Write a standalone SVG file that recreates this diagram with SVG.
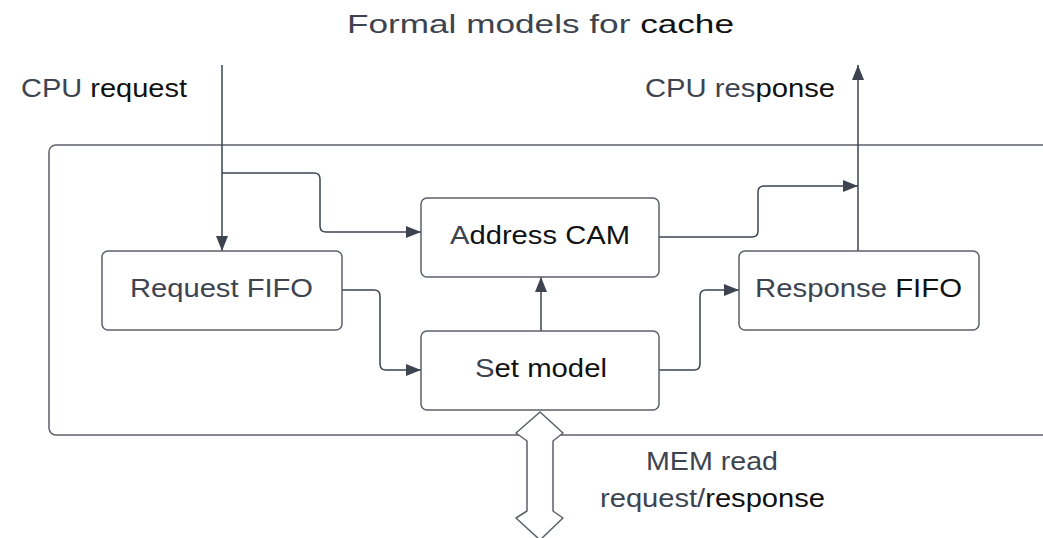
<svg xmlns="http://www.w3.org/2000/svg" width="1043" height="538" viewBox="0 0 1043 538">
<style>
.box{fill:#ffffff;stroke:#5c6169;stroke-width:1.5}
.cn{fill:none;stroke:#3d4450;stroke-width:1.5}
.t{font-family:"Liberation Sans",Arial,sans-serif;font-size:26px;fill:#3d4450}
.k{fill:#111111}
</style>
<defs>
<marker id="ah" markerUnits="userSpaceOnUse" markerWidth="16" markerHeight="14" refX="15" refY="7" orient="auto">
<path d="M0,1 L15,7 L0,13 z" fill="#3d4450"/>
</marker>
</defs>
<rect x="0" y="0" width="1043" height="538" fill="#ffffff"/>
<g id="title">
<text class="t" x="347" y="33" font-size="29" textLength="387" lengthAdjust="spacingAndGlyphs">Formal models for <tspan class="k">cache</tspan></text>
</g>
<g id="container">
<rect class="box" x="49" y="145" width="1020" height="290" rx="7"/>
</g>
<g id="connectors">
<path class="cn" d="M222,65 V251" marker-end="url(#ah)"/>
<path class="cn" d="M222,173 H314 Q320,173 320,179 V226 Q320,232 326,232 H421" marker-end="url(#ah)"/>
<path class="cn" d="M659,237 H752 Q758,237 758,231 V192 Q758,186 764,186 H858" marker-end="url(#ah)"/>
<path class="cn" d="M858,251 V65" marker-end="url(#ah)"/>
<path class="cn" d="M342,290 H374 Q380,290 380,296 V364 Q380,370 386,370 H421" marker-end="url(#ah)"/>
<path class="cn" d="M541,331 V277" marker-end="url(#ah)"/>
<path class="cn" d="M659,370 H694 Q700,370 700,364 V296 Q700,290 706,290 H739" marker-end="url(#ah)"/>
</g>
<g id="cpu-request">
<text class="t" x="21" y="97" textLength="166" lengthAdjust="spacingAndGlyphs">CPU <tspan class="k">request</tspan></text>
</g>
<g id="cpu-response">
<text class="t" x="645" y="97" textLength="190" lengthAdjust="spacingAndGlyphs">CPU res<tspan class="k">ponse</tspan></text>
</g>
<g id="request-fifo">
<rect class="box" x="102" y="251" width="240" height="79" rx="6"/>
<text class="t" x="130" y="297" textLength="183" lengthAdjust="spacingAndGlyphs">Request FIFO</text>
</g>
<g id="address-cam">
<rect class="box" x="421" y="198" width="238" height="79" rx="6"/>
<text class="t" x="450" y="244" textLength="180" lengthAdjust="spacingAndGlyphs">A<tspan class="k">ddress CAM</tspan></text>
</g>
<g id="set-model">
<rect class="box" x="421" y="331" width="238" height="79" rx="6"/>
<text class="t" x="475" y="377" textLength="132" lengthAdjust="spacingAndGlyphs">S<tspan class="k">et model</tspan></text>
</g>
<g id="response-fifo">
<rect class="box" x="739" y="251" width="240" height="79" rx="6"/>
<text class="t" x="755" y="297" textLength="207" lengthAdjust="spacingAndGlyphs">Response <tspan class="k">FIFO</tspan></text>
</g>
<g id="mem-arrow">
<path d="M540,412 L563,433 L553,441 V511 L563,518 L540,540 L516,518 L527,511 V441 L516,433 Z" fill="#ffffff" stroke="#5c6169" stroke-width="1.5" stroke-linejoin="round"/>
</g>
<g id="mem-label">
<text class="t" x="646" y="470" textLength="132" lengthAdjust="spacingAndGlyphs">MEM read</text>
<text class="t" x="600" y="507" textLength="225" lengthAdjust="spacingAndGlyphs">request/<tspan class="k">response</tspan></text>
</g>
</svg>
